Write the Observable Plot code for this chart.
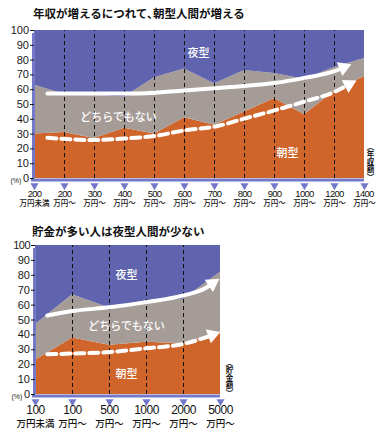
<!DOCTYPE html>
<html><head><meta charset="utf-8">
<script src="https://cdn.jsdelivr.net/npm/d3@7"></script>
<script src="https://cdn.jsdelivr.net/npm/@observablehq/plot@0.6"></script>
<style>
html,body{margin:0;padding:0;background:#fff;}
#wrap{position:relative;width:388px;height:435px;overflow:hidden;background:#fff;}
.ttl{position:absolute;left:33px;font-family:"Noto Sans CJK JP",sans-serif;font-weight:700;font-size:11.5px;color:#111;white-space:nowrap;line-height:1;}
.chart{position:absolute;left:0;}
</style></head>
<body><div id="wrap">
<div class="ttl" style="top:8px">年収が増えるにつれて､朝型人間が増える</div>
<div class="chart" id="c1" style="top:20px"></div>
<div class="ttl" style="top:226px;left:32px">貯金が多い人は夜型人間が少ない</div>
<div class="chart" id="c2" style="top:235px"></div>
</div>
<script>
// ---- data ----
const types = ["朝型", "どちらでもない", "夜型"];
const typeColors = ["#d0652c", "#a69c97", "#6064ae"];

const incomeNums = ["200","200","300","400","500","600","700","800","900","1000","1200","1400"];
const incomeUnits = ["万円未満","万円～","万円～","万円～","万円～","万円～","万円～","万円～","万円～","万円～","万円～","万円～"];
const incomeMorning = [30, 31, 27, 34, 30, 41, 36, 45, 54, 43, 59, 69];
const incomeNeither = [33, 26, 29, 21, 38, 33, 28, 28, 17, 24, 16, 12];
const incomeNight   = [37, 43, 44, 45, 32, 26, 36, 27, 29, 33, 25, 19];
const incomeSolidArrow = [[0.43,57.5],[2,57.5],[3.5,57.5],[5,59.5],[6,61],[7,62.5],[8,64.5],[9,68],[10,72.5],[10.3,75]];
const incomeDashArrow  = [[0.43,27.5],[2,26],[3,27],[4,28.7],[5,32.5],[6,35],[7,40.5],[8,46],[9,52],[10,58.5],[10.48,63.5]];
const incomeTypeLabels = [[5.47,84.5,"夜型"],[2.8,41,"どちらでもない"],[8.43,17,"朝型"]];

const savingsNums = ["100","100","500","1000","2000","5000"];
const savingsUnits = ["万円未満","万円～","万円～","万円～","万円～","万円～"];
const savingsMorning = [23, 38, 33, 35, 34, 42];
const savingsNeither = [24, 29, 25, 28, 30, 40];
const savingsNight   = [53, 33, 42, 37, 36, 18];
const savingsSolidArrow = [[0.32,53],[1,56],[2,58.5],[3,62],[4,66.5],[4.6,71.5],[4.78,74.5]];
const savingsDashArrow  = [[0.32,27],[1,27.5],[2,28.5],[3,31],[4,34],[4.5,37.5],[4.78,40]];
const savingsTypeLabels = [[2.46,80,"夜型"],[2.46,45.6,"どちらでもない"],[2.46,13.4,"朝型"]];

const yTicks = [0,10,20,30,40,50,60,70,80,90,100];

const numFont = '"Liberation Sans",sans-serif';
const cjkFont = '"Noto Sans CJK JP",sans-serif';
const axisColor = "#7478c8";

function makeChart(o) {
  const n = o.nums.length;
  const idx = d3.range(n);
  const rows = [];
  idx.forEach(i => {
    rows.push({i, type: types[0], v: o.morning[i]});
    rows.push({i, type: types[1], v: o.neither[i]});
    rows.push({i, type: types[2], v: o.night[i]});
  });
  const width = 388, height = 200;
  const kx = (width - o.ml - o.mr) / (n - 1);
  const ky = (height - o.mt - o.mb) / 100;
  const head = pts => {
    const a = pts[pts.length - 2], b = pts[pts.length - 1];
    return [{x: b[0], y: b[1], r: Math.atan2((b[0]-a[0])*kx, (b[1]-a[1])*ky) * 180 / Math.PI}];
  };
  const svg = Plot.plot({
    width, height,
    marginLeft: o.ml, marginRight: o.mr, marginTop: o.mt, marginBottom: o.mb,
    x: {domain: [0, n - 1], axis: null},
    y: {domain: [0, 100]},
    color: {domain: types, range: typeColors},
    style: {background: "transparent", fontFamily: numFont, overflow: "visible"},
    marks: [
      Plot.areaY(rows, Plot.stackY({x: "i", y: "v", fill: "type", order: null})),
      Plot.ruleX(idx.slice(1, n - 1), {y1: 0, y2: 100, stroke: "#111", strokeWidth: 1, strokeDasharray: "4,3"}),
      Plot.ruleX([0], {stroke: axisColor, strokeWidth: 3, dx: -1, y1: 0, y2: 100, insetBottom: -3}),
      Plot.ruleY([0], {stroke: axisColor, strokeWidth: 3, dy: 1.5, x1: 0, x2: n - 1, insetLeft: -3}),
      Plot.axisY({ticks: yTicks, tickSize: 4, tickPadding: 1.5, fontSize: o.yFont, fill: "#1a1a1a", stroke: "#1a1a1a", label: null}),
      Plot.text(["(%)"], {frameAnchor: "bottom-left", dx: -24, dy: 2, fontSize: 7, fill: "#222", lineAnchor: "middle"}),
      Plot.line(o.solid, {x: d => d[0], y: d => d[1], stroke: "white", strokeWidth: 4, curve: "monotone-x"}),
      Plot.dot(head(o.solid), {x: "x", y: "y", rotate: "r", symbol: "triangle", r: 5.5, fill: "white", stroke: null}),
      Plot.line(o.dash, {x: d => d[0], y: d => d[1], stroke: "white", strokeWidth: 4, strokeDasharray: "9,5", curve: "monotone-x"}),
      Plot.dot(head(o.dash), {x: "x", y: "y", rotate: "r", symbol: "triangle", r: 5.5, fill: "white", stroke: null}),
      Plot.text(o.labels, {x: d => d[0], y: d => d[1], text: d => d[2], fill: "white", fontSize: 11, fontFamily: cjkFont, fontWeight: 500}),
      Plot.dot(idx, {x: d => d, frameAnchor: "bottom", dy: 7, symbol: "triangle", rotate: 180, r: 3, fill: axisColor, stroke: null}),
      Plot.text(idx, {x: d => d, text: d => o.nums[d], frameAnchor: "bottom", lineAnchor: "middle", dy: o.numDy, fontSize: o.numFont, fill: "#111"}),
      Plot.text(idx, {x: d => d, text: d => o.units[d], frameAnchor: "bottom", lineAnchor: "middle", dy: o.unitDy, fontSize: o.unitFont, fill: "#111", fontFamily: cjkFont, fontWeight: 500}),
      Plot.text([o.vlabel], {frameAnchor: "bottom-right", dx: o.vdx, dy: 2, fontSize: 7.5, fill: "#111", fontFamily: cjkFont, fontWeight: 700})
    ]
  });
  // vertical (tategaki) unit label
  d3.select(svg).selectAll("text").filter(function() { return this.textContent === o.vlabel; })
    .attr("dy", null)
    .style("writing-mode", "vertical-rl")
    .style("text-anchor", "end").attr("text-anchor", "end");
  // tighten the digit labels under the x axis
  const numSet = new Set(o.nums);
  d3.select(svg).selectAll("text").filter(function() {
    return numSet.has(this.textContent) && +this.getAttribute("font-size") !== o.yFont;
  }).style("letter-spacing", o.numLs + "px");
  return svg;
}

document.getElementById("c1").appendChild(makeChart({
  nums: incomeNums, units: incomeUnits, morning: incomeMorning, neither: incomeNeither, night: incomeNight,
  solid: incomeSolidArrow, dash: incomeDashArrow, labels: incomeTypeLabels,
  ml: 34, mr: 24, mt: 10, mb: 42, yFont: 11, numFont: 9.5, numLs: -0.7, numDy: 15, unitFont: 7.5, unitDy: 25.5,
  vlabel: "（年収額）", vdx: 6
}));
document.getElementById("c2").appendChild(makeChart({
  nums: savingsNums, units: savingsUnits, morning: savingsMorning, neither: savingsNeither, night: savingsNight,
  solid: savingsSolidArrow, dash: savingsDashArrow, labels: savingsTypeLabels,
  ml: 35, mr: 168, mt: 10, mb: 41, yFont: 11, numFont: 12, numLs: -0.5, numDy: 16, unitFont: 9.5, unitDy: 29.5,
  vlabel: "（貯金額）", vdx: 9
}));
</script>
</body></html>
